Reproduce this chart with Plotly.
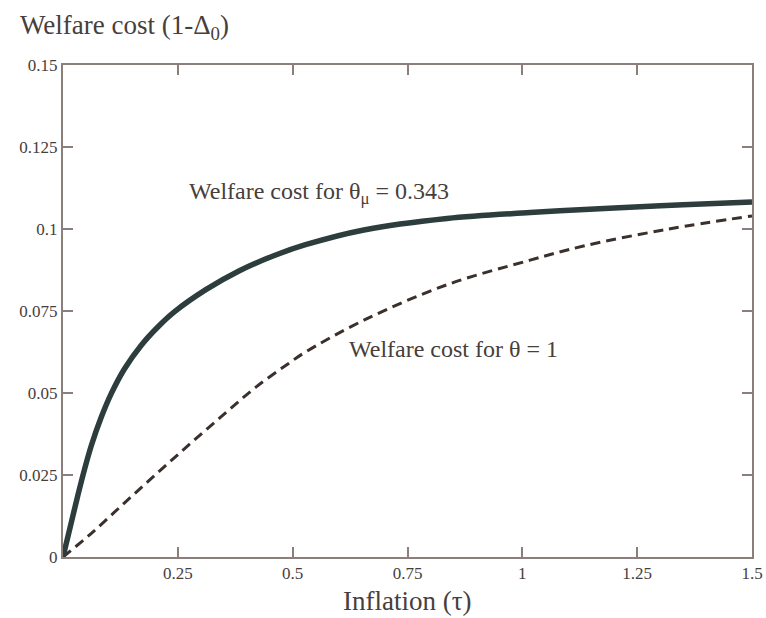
import plotly.graph_objects as go

# Solid curve: welfare cost for theta_mu = 0.343
x_mu = [0, 0.018, 0.0327, 0.047, 0.0617, 0.083, 0.105, 0.134, 0.170, 0.207, 0.243,
        0.311, 0.383, 0.456, 0.528, 0.655, 0.836, 1.017, 1.2, 1.35, 1.5]
y_mu = [0, 0.0105, 0.019, 0.0268, 0.034, 0.0425, 0.0498, 0.0574, 0.0645, 0.0702,
        0.0748, 0.0815, 0.0872, 0.0917, 0.0952, 0.0997, 0.1032, 0.1050, 0.1064,
        0.1074, 0.1082]

# Dashed curve: welfare cost for theta = 1
x_one = [0, 0.0617, 0.134, 0.207, 0.279, 0.352, 0.42, 0.492, 0.528, 0.655, 0.836,
         1.017, 1.133, 1.315, 1.5]
y_one = [0, 0.0072, 0.0165, 0.0258, 0.0348, 0.0437, 0.0518, 0.0591, 0.0625, 0.0722,
         0.0830, 0.0905, 0.0948, 0.0999, 0.104]

x_ticks = [0, 0.25, 0.5, 0.75, 1, 1.25, 1.5]
x_tick_labels = ["", "0.25", "0.5", "0.75", "1", "1.25", "1.5"]
y_ticks = [0, 0.025, 0.05, 0.075, 0.1, 0.125, 0.15]
y_tick_labels = ["0", "0.025", "0.05", "0.075", "0.1", "0.125", "0.15"]

SERIF = "Liberation Serif, Times New Roman, serif"
AXIS_COLOR = "#8a7f7b"
TEXT_COLOR = "#46403c"

fig = go.Figure()
fig.add_trace(go.Scatter(x=x_one, y=y_one, mode="lines", line_shape="spline",
                         line=dict(color="#3a302c", width=3, dash="10px,6px"),
                         showlegend=False, hoverinfo="skip"))
fig.add_trace(go.Scatter(x=x_mu, y=y_mu, mode="lines", line_shape="spline",
                         line=dict(color="#2d3c3c", width=5.5),
                         showlegend=False, hoverinfo="skip"))

axis_common = dict(showline=True, linecolor=AXIS_COLOR, linewidth=2,
                   mirror="ticks", ticks="inside", ticklen=10, tickwidth=2,
                   tickcolor=AXIS_COLOR, showgrid=False, zeroline=False,
                   automargin=False,
                   tickfont=dict(family=SERIF, size=17, color=TEXT_COLOR))

fig.update_xaxes(range=[0, 1.5], tickvals=x_ticks, ticktext=x_tick_labels,
                 **axis_common)
fig.update_yaxes(range=[0, 0.15], tickvals=y_ticks, ticktext=y_tick_labels,
                 **axis_common)

fig.add_annotation(x=0, y=1, xref="paper", yref="paper", xshift=-45, yshift=38,
                   text="Welfare cost (1-Δ<sub>0</sub>)", showarrow=False,
                   xanchor="left", yanchor="middle",
                   font=dict(family=SERIF, size=27, color=TEXT_COLOR))
fig.add_annotation(x=0.5, y=0, xref="paper", yref="paper", yshift=-44,
                   text="Inflation (τ)", showarrow=False,
                   xanchor="center", yanchor="middle",
                   font=dict(family=SERIF, size=27, color=TEXT_COLOR))
fig.add_annotation(x=0.27, y=0.111, xref="x", yref="y",
                   text="Welfare cost for θ<sub>μ</sub> = 0.343", showarrow=False,
                   xanchor="left", yanchor="middle",
                   font=dict(family=SERIF, size=24, color=TEXT_COLOR))
fig.add_annotation(x=0.618, y=0.0633, xref="x", yref="y",
                   text="Welfare cost for θ = 1", showarrow=False,
                   xanchor="left", yanchor="middle",
                   font=dict(family=SERIF, size=24, color=TEXT_COLOR))

fig.update_layout(width=766, height=618,
                  margin=dict(l=63, r=14, t=65, b=61),
                  paper_bgcolor="white", plot_bgcolor="white")

fig.write_html("out.html", config={"displayModeBar": False},
               post_script="document.body.style.margin='0px';"
                           "document.body.style.overflow='hidden';")
